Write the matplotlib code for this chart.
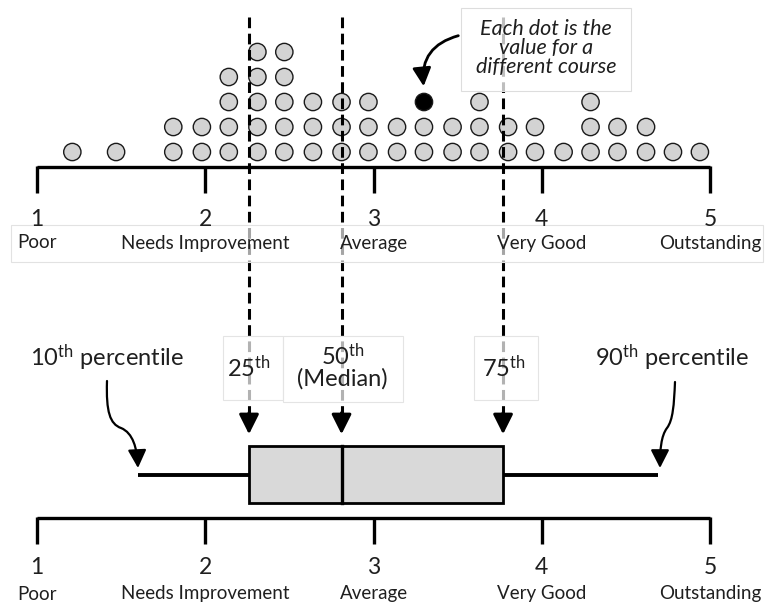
import matplotlib
matplotlib.use("Agg")
import matplotlib.pyplot as plt
from matplotlib.patches import Rectangle, FancyArrowPatch
from matplotlib.path import Path

plt.rcParams['font.family'] = ['Lato', 'DejaVu Sans']
plt.rcParams['mathtext.fontset'] = 'custom'
plt.rcParams['mathtext.rm'] = 'Lato'
plt.rcParams['mathtext.it'] = 'Lato:italic'

# ---------------- data ----------------
scale_ticks = [1, 2, 3, 4, 5]
scale_labels = ["Poor", "Needs Improvement", "Average", "Very Good", "Outstanding"]

dot_values = [1.21, 1.47, 1.81, 1.98, 2.14, 2.31, 2.47, 2.64, 2.81, 2.97, 3.14,
              3.30, 3.47, 3.63, 3.80, 3.96, 4.13, 4.29, 4.45, 4.62, 4.78, 4.94]
dot_counts = [1, 1, 2, 2, 4, 5, 5, 3, 3, 3, 2,
              3, 2, 3, 2, 2, 1, 3, 2, 2, 1, 1]
highlight_value = 3.30

p10, p25, p50, p75, p90 = 1.60, 2.26, 2.81, 3.77, 4.69
percentile_labels = ["10$^{\\mathrm{th}}$ percentile", "25$^{\\mathrm{th}}$",
                     "50$^{\\mathrm{th}}$\n(Median)", "75$^{\\mathrm{th}}$",
                     "90$^{\\mathrm{th}}$ percentile"]
note_text = "Each dot is the\nvalue for a\ndifferent course"

# ---------------- layout (vertical positions in pixel-like units) ----------------
W, H = 765, 602
px_per_unit = 168.25
x0_px = 37
fig = plt.figure(figsize=(W / 100, H / 100), dpi=100)
ax = fig.add_axes([0, 0, 1, 1])
ax.set_xlim(1 - x0_px / px_per_unit, 1 + (W - x0_px) / px_per_unit)
ax.set_ylim(H, 0)
ax.axis('off')

def px(dx):
    return dx / px_per_unit

xlo = ax.get_xlim()[0]
def X(pxv):
    return xlo + px(pxv)

TXT = '#1f1f1f'
dot_base_y = 152
dot_step = 25
top_axis_y = 167
bot_axis_y = 518
tick_len = 26

def draw_scale(y_axis, y_num, y_lab):
    ax.plot([scale_ticks[0], scale_ticks[-1]], [y_axis, y_axis], color='black',
            lw=2.4, solid_capstyle='butt', zorder=3)
    for t in scale_ticks:
        ax.plot([t, t], [y_axis - 1, y_axis + tick_len], color='black', lw=2.4,
                solid_capstyle='butt', zorder=3)
        ax.text(t, y_num, str(t), ha='center', va='center', fontsize=16.5,
                color=TXT, zorder=6)
    for t, lab in zip(scale_ticks, scale_labels):
        ax.text(t, y_lab, lab, ha='center', va='center', fontsize=13.5,
                color=TXT, zorder=6)

draw_scale(top_axis_y, 219, 243)
draw_scale(bot_axis_y, 567, 594)

# label band on the top scale (semi transparent text box)
ax.add_patch(Rectangle((X(11), 225), px(752), 37,
                       facecolor=(1, 1, 1, 0.65), edgecolor='#e2e2e2', lw=0.8, zorder=5))

# ---------------- dot plot ----------------
xs, ys, fcs = [], [], []
for v, c in zip(dot_values, dot_counts):
    for k in range(c):
        xs.append(v)
        ys.append(dot_base_y - k * dot_step)
        is_hl = (v == highlight_value and k == c - 1)
        fcs.append('black' if is_hl else '#d3d3d3')
ax.scatter(xs, ys, s=155, c=fcs, edgecolors='#1a1a1a', linewidths=1.0, zorder=2)

# ---------------- dashed percentile guides ----------------
for p in (p25, p50, p75):
    ax.plot([p, p], [17, 420], color='black', lw=2.2, dashes=(3.5, 1.8), zorder=4)
    arr = FancyArrowPatch((p, 410), (p, 437),
                          arrowstyle='-|>,head_length=0.6,head_width=0.3',
                          mutation_scale=20, color='black', lw=2.2, zorder=4)
    ax.add_patch(arr)

# ---------------- box plot ----------------
box_top, box_bot = 446, 503
whisk_y = (box_top + box_bot) / 2
ax.add_patch(Rectangle((p25, box_top), p75 - p25, box_bot - box_top,
                       facecolor='#d9d9d9', edgecolor='black', lw=2.0, zorder=3))
ax.plot([p50, p50], [box_top, box_bot], color='black', lw=2.4, zorder=4)
ax.plot([p10, p25], [whisk_y, whisk_y], color='black', lw=2.8,
        solid_capstyle='butt', zorder=3)
ax.plot([p75, p90], [whisk_y, whisk_y], color='black', lw=2.8,
        solid_capstyle='butt', zorder=3)

# ---------------- percentile labels ----------------
lab_kw = dict(ha='center', va='center', fontsize=17, color=TXT, zorder=6,
              linespacing=1.0)
ax.text(X(107), 358, percentile_labels[0], **lab_kw)
ax.text(p25, 368, percentile_labels[1], **lab_kw)
ax.text(p50 + px(1), 366, percentile_labels[2], **lab_kw)
ax.text(p75 + px(1), 368, percentile_labels[3], **lab_kw)
ax.text(X(672), 358, percentile_labels[4], **lab_kw)

band_kw = dict(facecolor=(1, 1, 1, 0.7), edgecolor='#e4e4e4', lw=0.8, zorder=5)
ax.add_patch(Rectangle((X(223), 336), px(60), 64, **band_kw))
ax.add_patch(Rectangle((X(283), 336), px(120), 66, **band_kw))
ax.add_patch(Rectangle((X(474), 336), px(64), 64, **band_kw))

# curved callout arrows
def curve(pts):
    codes = [Path.MOVETO] + [Path.CURVE4] * (len(pts) - 1)
    return Path(pts, codes)

path10 = curve([(X(107), 381), (X(106), 412), (X(110), 424), (X(121), 428),
                (X(133), 433), (X(137), 448), (X(138), 468)])
ax.add_patch(FancyArrowPatch(path=path10, arrowstyle='-|>,head_length=0.55,head_width=0.28',
                             mutation_scale=20, color='black', lw=1.6, zorder=6))
path90 = curve([(X(675), 382), (X(674), 405), (X(673), 420), (X(667), 428),
                (X(661), 436), (X(660), 450), (X(660), 468)])
ax.add_patch(FancyArrowPatch(path=path90, arrowstyle='-|>,head_length=0.55,head_width=0.28',
                             mutation_scale=20, color='black', lw=1.6, zorder=6))

# ---------------- note box ----------------
ax.add_patch(Rectangle((X(461), 8), px(170), 83, facecolor=(1, 1, 1, 0.75),
                       edgecolor='#dddddd', lw=0.8, zorder=5))
ax.text(X(546), 48, note_text, ha='center', va='center', fontsize=15.5,
        style='italic', color=TXT, linespacing=0.95, zorder=6)
ax.add_patch(FancyArrowPatch((X(461), 35), (highlight_value, 89),
                             connectionstyle='arc3,rad=0.45',
                             arrowstyle='-|>,head_length=0.55,head_width=0.28',
                             mutation_scale=20, color='black', lw=2.0, zorder=6))

fig.savefig("out.png", dpi=100)
